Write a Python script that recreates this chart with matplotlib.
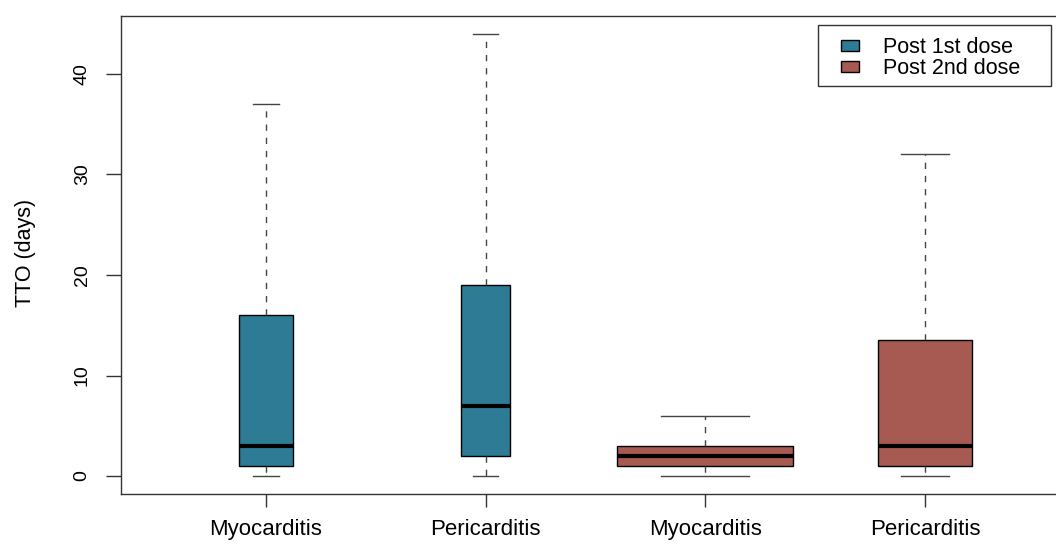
import matplotlib
matplotlib.use("Agg")
import matplotlib.pyplot as plt
from matplotlib.patches import Patch, Rectangle

plt.rcParams["font.family"] = ["Liberation Sans", "DejaVu Sans"]

# TTO (days) summary per group: whisker low, Q1, median, Q3, whisker high
groups = ["Myocarditis", "Pericarditis", "Myocarditis", "Pericarditis"]
dose = ["Post 1st dose", "Post 1st dose", "Post 2nd dose", "Post 2nd dose"]
whislo = [0, 0, 0, 0]
q1 = [1, 2, 1, 1]
med = [3, 7, 2, 3]
q3 = [16, 19, 3, 13.5]
whishi = [37, 44, 6, 32]
yticks = [0, 10, 20, 30, 40]

positions = [1, 2, 3, 4]
widths = [0.245, 0.225, 0.80, 0.43]
dose_colors = {"Post 1st dose": "#2E7B95", "Post 2nd dose": "#A65A52"}

stats = []
for i in range(len(groups)):
    stats.append(dict(label=groups[i], whislo=whislo[i], q1=q1[i], med=med[i],
                      q3=q3[i], whishi=whishi[i], fliers=[]))

fig = plt.figure(figsize=(10.56, 5.44), dpi=100)
ax = fig.add_axes([121 / 1056, (544 - 493.7) / 544, 949 / 1056, 477.6 / 544])

bp = ax.bxp(stats, positions=positions, widths=widths, patch_artist=True,
            showfliers=False, capwidths=[w / 2 for w in widths],
            boxprops=dict(edgecolor="black", linewidth=1.0),
            medianprops=dict(color="black", linewidth=3.0, solid_capstyle="butt"),
            whiskerprops=dict(color="#444444", linewidth=1.0, linestyle=(0, (4.5, 5))),
            capprops=dict(color="#444444", linewidth=1.0))
for box, d in zip(bp["boxes"], dose):
    box.set_facecolor(dose_colors[d])

ax.set_xlim(0.34, 4.66)
ax.set_ylim(-1.76, 45.76)
ax.set_yticks(yticks)
ax.set_xticks(positions, groups)
ax.tick_params(axis="y", labelrotation=90, length=10.8, pad=11, labelsize=14,
               color="#333333", width=1.0)
ax.tick_params(axis="x", length=9.4, pad=9, labelsize=16, color="#333333", width=1.0)
for lab in ax.get_yticklabels():
    lab.set_va("center")
for sp in ax.spines.values():
    sp.set_color("#333333")
    sp.set_linewidth(1.0)

fig.text(26 / 1056, 1 - 253 / 544, "TTO (days)", rotation=90, ha="center", va="center",
         fontsize=15.5)

handles = [Patch(facecolor=dose_colors[k], edgecolor="black", linewidth=1.0)
           for k in ["Post 1st dose", "Post 2nd dose"]]
fig.legend(handles, ["Post 1st dose", "Post 2nd dose"], loc="upper left",
           bbox_to_anchor=(841 / 1056, 1 - 37 / 544), frameon=False, borderpad=0,
           borderaxespad=0, fontsize=15.5, handlelength=0.83, handleheight=0.45,
           handletextpad=1.1, labelspacing=0.0)
fig.patches.append(Rectangle((818 / 1056, 1 - 86 / 544), 233 / 1056, 61 / 544,
                             transform=fig.transFigure, fill=False,
                             edgecolor="#333333", linewidth=1.0))

fig.savefig("out.png", dpi=100)
